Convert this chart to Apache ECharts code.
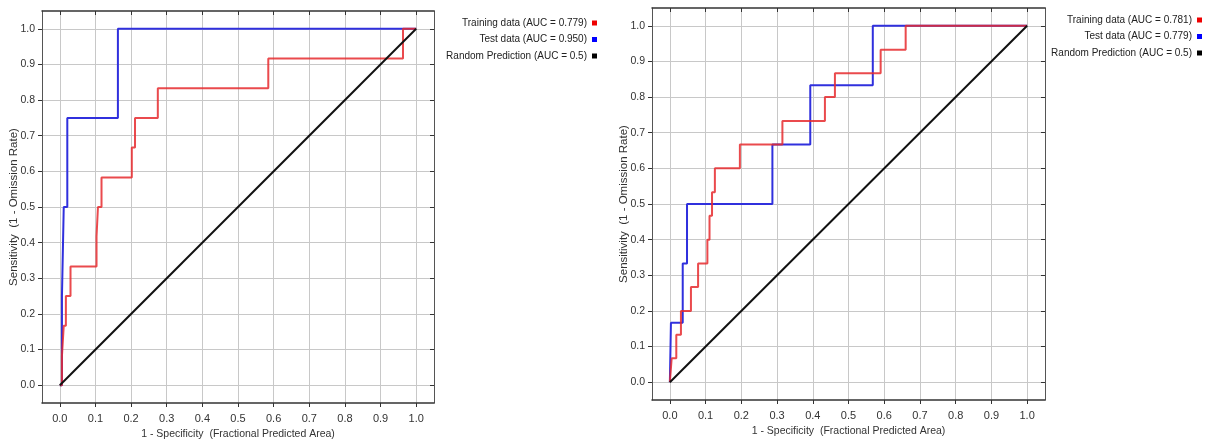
<!DOCTYPE html>
<html>
<head>
<meta charset="utf-8">
<script src="https://cdn.jsdelivr.net/npm/echarts@6/dist/echarts.min.js"></script>
<style>
  html, body { margin: 0; padding: 0; background: #fff; }
  #main { width: 1207px; height: 440px; }
</style>
</head>
<body>
<div id="main"></div>
<script>
// tick values shared by both panels
const tickValues = [0.0, 0.1, 0.2, 0.3, 0.4, 0.5, 0.6, 0.7, 0.8, 0.9, 1.0];

// left panel: x where the curve steps up, y reached after the step
const leftTrainX = [0.006, 0.011, 0.017, 0.030, 0.103, 0.107, 0.117, 0.202, 0.211, 0.275, 0.585, 0.963];
const leftTrainY = [0.083, 0.167, 0.250, 0.333, 0.417, 0.500, 0.583, 0.667, 0.750, 0.833, 0.917, 1.000];
const leftTestX = [0.006, 0.011, 0.021, 0.163];
const leftTestY = [0.25, 0.50, 0.75, 1.00];

// right panel
const rightTrainX = [0.005, 0.018, 0.031, 0.059, 0.079, 0.105, 0.111, 0.118, 0.126, 0.196, 0.315, 0.434, 0.462, 0.590, 0.660];
const rightTrainY = [0.067, 0.133, 0.200, 0.267, 0.333, 0.400, 0.467, 0.533, 0.600, 0.667, 0.733, 0.800, 0.867, 0.933, 1.000];
const rightTestX = [0.003, 0.036, 0.048, 0.287, 0.393, 0.568];
const rightTestY = [0.167, 0.333, 0.500, 0.667, 0.833, 1.000];

const randomLine = [[0, 0], [1, 1]];

const leftNames = ['Training data (AUC = 0.779)', 'Test data (AUC = 0.950)', 'Random Prediction (AUC = 0.5)'];
const rightNames = ['Training data (AUC = 0.781)', 'Test data (AUC = 0.779)', 'Random Prediction (AUC = 0.5)'];

const xTitle = '1 - Specificity  (Fractional Predicted Area)';
const yTitle = 'Sensitivity  (1 - Omission Rate)';

const FONT = "'Liberation Sans', Arial, sans-serif";
const RED = '#e62a2e';
const BLUE = '#3030dd';
const BLACK = '#111111';

// turn step lists into ROC vertices
function stepPoints(xs, ys) {
  let pts = [[0, 0]];
  let prev = 0;
  for (let i = 0; i < xs.length; i++) {
    pts.push([xs[i], prev]);
    pts.push([xs[i], ys[i]]);
    prev = ys[i];
  }
  pts.push([1, prev]);
  return pts;
}

function xAxes(g) {
  return [
    {
      type: 'value', gridIndex: g, position: 'bottom', min: -0.05, max: 1.05,
      axisLine: { show: true, onZero: false, lineStyle: { color: '#333', width: 1.5 } },
      axisTick: { show: true, length: 4, customValues: tickValues, lineStyle: { color: '#333' } },
      axisLabel: { customValues: tickValues, formatter: v => v.toFixed(1), margin: 10, fontSize: 11, color: '#333', fontFamily: FONT },
      splitLine: { show: true, lineStyle: { color: '#c8c8c8' } },
      name: xTitle, nameLocation: 'middle', nameGap: 26, nameMoveOverlap: false,
      nameTextStyle: { fontSize: 10.5, color: '#333', fontFamily: FONT }
    },
    {
      type: 'value', gridIndex: g, position: 'top', min: -0.05, max: 1.05,
      axisLine: { show: true, onZero: false, lineStyle: { color: '#333', width: 1.5 } },
      axisTick: { show: true, inside: true, length: 4, customValues: tickValues, lineStyle: { color: '#333' } },
      axisLabel: { show: false },
      splitLine: { show: false }
    }
  ];
}

function yAxes(g) {
  return [
    {
      type: 'value', gridIndex: g, position: 'left', min: -0.05, max: 1.05,
      axisLine: { show: true, onZero: false, lineStyle: { color: '#555', width: 1 } },
      axisTick: { show: true, length: 4, customValues: tickValues, lineStyle: { color: '#333' } },
      axisLabel: { customValues: tickValues, formatter: v => v.toFixed(1), margin: 7, fontSize: 10.5, color: '#333', fontFamily: FONT },
      splitLine: { show: true, lineStyle: { color: '#c8c8c8' } },
      name: yTitle, nameLocation: 'middle', nameGap: 22, nameMoveOverlap: false,
      nameTextStyle: { fontSize: 11.5, color: '#333', fontFamily: FONT }
    },
    {
      type: 'value', gridIndex: g, position: 'right', min: -0.05, max: 1.05,
      axisLine: { show: true, onZero: false, lineStyle: { color: '#555', width: 1 } },
      axisTick: { show: true, inside: true, length: 4, customValues: tickValues, lineStyle: { color: '#333' } },
      axisLabel: { show: false },
      splitLine: { show: false }
    }
  ];
}

function rocSeries(names, trainPts, testPts, xi, yi) {
  return [
    {
      name: names[1], type: 'line', xAxisIndex: xi, yAxisIndex: yi, data: testPts,
      symbol: 'none', lineStyle: { color: BLUE, width: 2 }, itemStyle: { color: '#0000ff' }
    },
    {
      name: names[0], type: 'line', xAxisIndex: xi, yAxisIndex: yi, data: trainPts,
      symbol: 'none', lineStyle: { color: RED, width: 2, opacity: 0.85 }, itemStyle: { color: '#ee0000' }
    },
    {
      name: names[2], type: 'line', xAxisIndex: xi, yAxisIndex: yi, data: randomLine,
      symbol: 'none', lineStyle: { color: BLACK, width: 2 }, itemStyle: { color: '#000' }
    }
  ];
}

let myChart = echarts.init(document.getElementById('main'));

let legendBase = {
  orient: 'vertical', align: 'right', icon: 'rect', itemWidth: 5, itemHeight: 5, itemGap: 4.5,
  padding: 0, selectedMode: false,
  textStyle: { fontSize: 10, color: '#222', fontFamily: FONT, lineHeight: 12 }
};

let option = {
  animation: false,
  backgroundColor: '#fff',
  grid: [
    { left: 42, right: 773, top: 11, bottom: 37, outerBoundsMode: 'none' },
    { left: 652, right: 162, top: 8, bottom: 40, outerBoundsMode: 'none' }
  ],
  xAxis: xAxes(0).concat(xAxes(1)),
  yAxis: yAxes(0).concat(yAxes(1)),
  legend: [
    Object.assign({}, legendBase, { right: 610, top: 17, data: leftNames }),
    Object.assign({}, legendBase, { right: 5, top: 14, data: rightNames })
  ],
  series: rocSeries(leftNames, stepPoints(leftTrainX, leftTrainY), stepPoints(leftTestX, leftTestY), 0, 0)
    .concat(rocSeries(rightNames, stepPoints(rightTrainX, rightTrainY), stepPoints(rightTestX, rightTestY), 2, 2))
};

myChart.setOption(option);
</script>
</body>
</html>
